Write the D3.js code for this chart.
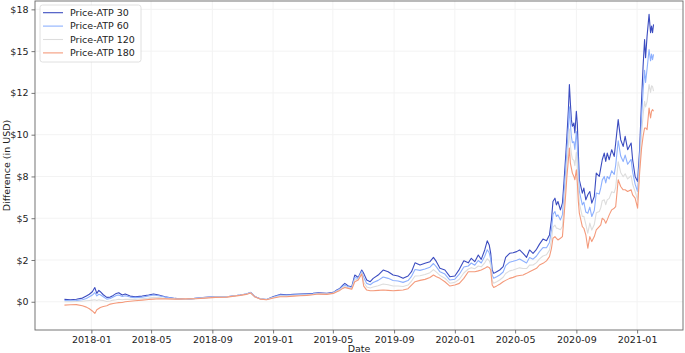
<!DOCTYPE html>
<html>
<head>
<meta charset="utf-8">
<script src="https://cdn.jsdelivr.net/npm/d3@7"></script>
<style>
  body { margin: 0; background: #fff; }
  svg text { font-family: "DejaVu Sans", sans-serif; fill: #222; }
</style>
</head>
<body>
<svg id="chart" width="685" height="353"></svg>
<script>
const dates = [
  '2017-11-08','2017-11-20','2017-12-02','2017-12-14','2017-12-22','2017-12-28','2018-01-03','2018-01-08','2018-01-12','2018-01-16',
  '2018-01-19','2018-01-25','2018-02-01','2018-02-08','2018-02-14','2018-02-20','2018-02-25','2018-03-04','2018-03-10','2018-03-20',
  '2018-03-30','2018-04-13','2018-04-26','2018-05-06','2018-05-16','2018-05-29','2018-06-18','2018-07-09','2018-07-29','2018-08-18',
  '2018-09-07','2018-09-30','2018-10-27','2018-11-08','2018-11-17','2018-11-26','2018-12-06','2018-12-19','2019-01-02','2019-01-15',
  '2019-01-28','2019-02-11','2019-02-24','2019-03-10','2019-03-22','2019-04-02','2019-04-19','2019-05-02','2019-05-09','2019-05-15',
  '2019-05-21','2019-05-25','2019-06-01','2019-06-08','2019-06-14','2019-06-21','2019-06-28','2019-07-02','2019-07-08','2019-07-15',
  '2019-07-21','2019-07-31','2019-08-10','2019-08-20','2019-08-30','2019-09-09','2019-09-19','2019-09-29','2019-10-06','2019-10-13',
  '2019-10-23','2019-11-02','2019-11-12','2019-11-19','2019-11-25','2019-12-02','2019-12-12','2019-12-22','2020-01-01','2020-01-10',
  '2020-01-19','2020-01-28','2020-02-03','2020-02-10','2020-02-17','2020-02-23','2020-03-01','2020-03-06','2020-03-10','2020-03-13',
  '2020-03-16','2020-03-19','2020-03-25','2020-03-31','2020-04-07','2020-04-12','2020-04-20','2020-04-27','2020-05-04','2020-05-10',
  '2020-05-17','2020-05-24','2020-05-30','2020-06-06','2020-06-13','2020-06-19','2020-06-26','2020-07-03','2020-07-09','2020-07-13',
  '2020-07-16','2020-07-20','2020-07-23','2020-07-26','2020-07-31','2020-08-04','2020-08-07','2020-08-11','2020-08-13','2020-08-16',
  '2020-08-18','2020-08-20','2020-08-22','2020-08-24','2020-08-27','2020-08-29','2020-09-01','2020-09-03','2020-09-05','2020-09-07',
  '2020-09-10','2020-09-13','2020-09-16','2020-09-20','2020-09-24','2020-09-28','2020-10-02','2020-10-07','2020-10-11','2020-10-17',
  '2020-10-20','2020-10-23','2020-10-27','2020-10-30','2020-11-02','2020-11-06','2020-11-11','2020-11-16','2020-11-19','2020-11-24',
  '2020-11-29','2020-12-04','2020-12-08','2020-12-13','2020-12-20','2020-12-23','2020-12-28','2021-01-02','2021-01-06','2021-01-10',
  '2021-01-13','2021-01-16','2021-01-18','2021-01-21','2021-01-25','2021-01-28','2021-01-30','2021-02-01','2021-02-03'
];

const atp30 = [
  0.14,0.12,0.15,0.22,0.35,0.45,0.6,0.85,0.5,0.68,
  0.6,0.42,0.26,0.28,0.38,0.5,0.54,0.4,0.46,0.34,
  0.3,0.34,0.4,0.46,0.4,0.3,0.2,0.14,0.2,0.26,
  0.3,0.3,0.4,0.46,0.56,0.3,0.18,0.14,0.32,0.44,
  0.42,0.44,0.46,0.48,0.5,0.54,0.5,0.56,0.7,0.8,
  1.0,1.1,0.94,0.9,1.6,1.45,1.9,1.7,1.3,1.2,
  1.4,1.6,1.9,1.8,1.6,1.54,1.4,1.54,1.8,2.33,
  2.2,2.3,2.4,2.66,2.4,2.0,1.9,1.5,1.54,1.94,
  2.45,2.33,2.6,2.4,2.8,2.54,3.1,3.65,3.4,2.9,
  1.9,1.7,1.8,1.9,2.1,2.66,2.9,2.93,3.0,3.1,
  2.9,2.66,3.1,2.9,3.14,3.45,3.75,3.65,4.0,4.9,
  6.0,6.2,5.8,6.0,5.5,5.9,7.1,8.9,9.9,11.5,
  13.0,11.9,10.9,10.5,10.7,10.1,11.4,10.6,8.9,7.3,
  6.9,6.5,6.8,6.1,6.4,6.6,5.9,6.3,7.7,7.5,
  8.0,8.5,8.9,8.4,8.9,8.5,9.1,8.7,9.5,10.9,
  9.7,9.3,9.9,9.1,9.5,8.5,7.5,7.2,9.1,12.1,
  14.1,15.7,14.6,15.9,17.2,16.1,16.5,16.1,16.6
];

const atp60 = [
  0.08,0.06,0.08,0.12,0.2,0.3,0.4,0.55,0.35,0.45,
  0.42,0.3,0.16,0.2,0.28,0.38,0.4,0.32,0.36,0.28,
  0.25,0.28,0.34,0.4,0.36,0.28,0.19,0.14,0.2,0.25,
  0.29,0.3,0.4,0.46,0.55,0.3,0.18,0.14,0.29,0.4,
  0.38,0.41,0.43,0.45,0.47,0.51,0.48,0.54,0.67,0.76,
  0.93,1.0,0.9,0.85,1.45,1.4,1.82,1.45,1.1,1.02,
  1.15,1.28,1.48,1.4,1.27,1.24,1.16,1.27,1.52,1.93,
  1.88,1.96,2.07,2.29,2.09,1.79,1.66,1.3,1.35,1.65,
  2.08,2.14,2.32,2.19,2.47,2.32,2.72,3.11,2.93,2.55,
  1.58,1.41,1.5,1.6,1.78,2.16,2.37,2.42,2.49,2.56,
  2.44,2.32,2.65,2.55,2.74,3.0,3.24,3.23,3.55,4.3,
  5.23,5.4,5.1,5.2,4.9,5.2,6.37,8.1,9.06,10.45,
  11.67,10.64,9.89,9.52,9.58,9.12,10.18,9.38,7.89,6.6,
  6.2,5.8,5.96,5.37,5.3,5.66,5.1,5.46,6.51,6.45,
  6.81,7.28,7.5,7.11,7.5,7.35,7.84,7.62,8.17,9.64,
  8.72,8.39,8.78,8.23,8.52,7.77,7.04,6.6,8.61,11.09,
  12.63,13.85,13.13,13.94,15.1,14.42,14.82,14.49,14.8
];

const atp120 = [
  0.0,0.0,0.02,0.03,0.06,0.08,0.1,0.12,0.08,0.12,
  0.1,0.08,0.02,0.05,0.1,0.12,0.15,0.12,0.15,0.14,
  0.14,0.18,0.22,0.26,0.25,0.21,0.17,0.15,0.19,0.24,
  0.28,0.29,0.39,0.45,0.54,0.29,0.17,0.13,0.25,0.35,
  0.34,0.37,0.39,0.41,0.44,0.48,0.46,0.52,0.63,0.72,
  0.86,0.92,0.84,0.8,1.32,1.35,1.73,1.17,0.88,0.82,
  0.88,0.96,1.06,1.02,0.94,0.94,0.91,1.0,1.24,1.54,
  1.56,1.63,1.74,1.92,1.77,1.58,1.41,1.11,1.16,1.35,
  1.72,1.96,2.04,1.98,2.14,2.09,2.33,2.57,2.46,2.2,
  1.27,1.11,1.2,1.3,1.47,1.69,1.85,1.9,1.98,2.03,
  1.99,1.99,2.19,2.2,2.34,2.57,2.74,2.81,3.09,3.71,
  4.46,4.59,4.4,4.39,4.31,4.5,5.63,7.29,8.22,9.4,
  10.34,9.38,8.87,8.54,8.46,8.14,8.95,8.15,6.87,5.9,
  5.5,5.1,5.12,4.63,4.1,4.71,4.29,4.62,5.32,5.4,
  5.62,6.05,6.1,5.81,6.1,6.19,6.58,6.53,6.84,8.38,
  7.74,7.48,7.66,7.35,7.54,7.03,6.59,6.1,8.12,10.07,
  11.16,11.99,11.66,11.98,13.0,12.53,12.93,12.88,12.6
];

const atp180 = [
  -0.2,-0.18,-0.17,-0.24,-0.32,-0.42,-0.55,-0.7,-0.48,-0.4,
  -0.34,-0.28,-0.24,-0.14,-0.1,-0.07,-0.05,-0.04,0.0,0.03,
  0.06,0.1,0.14,0.16,0.18,0.17,0.16,0.17,0.18,0.22,
  0.26,0.28,0.38,0.44,0.52,0.28,0.16,0.12,0.22,0.3,
  0.3,0.34,0.36,0.38,0.42,0.46,0.44,0.5,0.6,0.68,
  0.8,0.85,0.8,0.75,1.2,1.3,1.66,0.94,0.7,0.66,
  0.66,0.68,0.7,0.68,0.66,0.68,0.7,0.78,1.0,1.2,
  1.28,1.34,1.45,1.6,1.5,1.4,1.2,0.94,1.0,1.1,
  1.4,1.8,1.8,1.8,1.85,1.9,2.0,2.1,2.05,1.9,
  1.0,0.86,0.95,1.05,1.2,1.28,1.4,1.46,1.54,1.57,
  1.6,1.7,1.8,1.9,2.0,2.2,2.3,2.45,2.7,3.2,
  3.8,3.9,3.8,3.7,3.8,3.9,5.0,6.6,7.5,8.5,
  9.2,8.3,8.0,7.7,7.5,7.3,7.9,7.1,6.0,5.3,
  4.9,4.5,4.4,4.0,3.2,3.9,3.6,3.9,4.3,4.5,
  4.6,5.0,4.9,4.7,4.9,5.2,5.5,5.6,5.7,7.3,
  6.9,6.7,6.7,6.6,6.7,6.4,6.2,5.6,7.7,9.2,
  9.9,10.4,10.4,10.3,11.6,11.0,11.4,11.5,11.4
];

const seriesNames = ['Price-ATP 30', 'Price-ATP 60', 'Price-ATP 120', 'Price-ATP 180'];
const seriesValues = [atp30, atp60, atp120, atp180];
const seriesColors = ['#3b4cc0', '#8db0fe', '#dddddd', '#f49a7b'];

const yTicks = [0, 2.5, 5, 7.5, 10, 12.5, 15, 17.5];
const yTickLabels = ['$0', '$2', '$5', '$8', '$10', '$12', '$15', '$18'];

const width = 685, height = 353;
const margin = {top: 1, right: 2, bottom: 23, left: 35};

const parse = d3.utcParse('%Y-%m-%d');
const when = dates.map(parse);

const svg = d3.select('#chart');

// matplotlib style 5% padding on the dates
const [d0, d1] = d3.extent(when);
const pad = (d1 - d0) * 0.05;
const x = d3.scaleUtc()
    .domain([new Date(+d0 - pad), new Date(+d1 + pad)])
    .range([margin.left, width - margin.right]);

const y = d3.scaleLinear()
    .domain([-1.69, 18.0])
    .range([height - margin.bottom, margin.top]);

const xTicks = x.ticks(d3.utcMonth.every(4));

// grid
svg.append('g')
    .selectAll('line')
    .data(xTicks)
    .join('line')
    .attr('x1', d => x(d)).attr('x2', d => x(d))
    .attr('y1', margin.top).attr('y2', height - margin.bottom)
    .attr('stroke', '#f3f3f3');

svg.append('g')
    .selectAll('line')
    .data(yTicks)
    .join('line')
    .attr('x1', margin.left).attr('x2', width - margin.right)
    .attr('y1', d => y(d)).attr('y2', d => y(d))
    .attr('stroke', '#f3f3f3');

// lines
svg.append('clipPath').attr('id', 'plot-clip')
    .append('rect')
    .attr('x', margin.left).attr('y', margin.top)
    .attr('width', width - margin.left - margin.right)
    .attr('height', height - margin.top - margin.bottom);

const line = d3.line()
    .x((d, i) => x(when[i]))
    .y(d => y(d));

svg.append('g')
    .attr('clip-path', 'url(#plot-clip)')
    .selectAll('path')
    .data(seriesValues)
    .join('path')
    .attr('d', line)
    .attr('fill', 'none')
    .attr('stroke', (d, i) => seriesColors[i])
    .attr('stroke-width', 1.1)
    .attr('stroke-linejoin', 'round');

// axes
const xAxis = svg.append('g')
    .attr('transform', `translate(0,${height - margin.bottom})`)
    .call(d3.axisBottom(x).tickValues(xTicks).tickFormat(d3.utcFormat('%Y-%m')).tickSizeOuter(0).tickSize(3.5).tickPadding(3));

const yAxis = svg.append('g')
    .attr('transform', `translate(${margin.left},0)`)
    .call(d3.axisLeft(y).tickValues(yTicks).tickFormat((d, i) => yTickLabels[i]).tickSizeOuter(0).tickSize(3.5).tickPadding(3));

[xAxis, yAxis].forEach(g => {
    g.select('.domain').remove();
    g.selectAll('.tick line').attr('stroke', '#555').attr('stroke-width', 0.8);
    g.selectAll('.tick text')
        .style('font-family', '"DejaVu Sans", sans-serif')
        .style('font-size', '9.5px')
        .attr('fill', '#222');
});

// frame
svg.append('rect')
    .attr('x', margin.left).attr('y', margin.top)
    .attr('width', width - margin.left - margin.right)
    .attr('height', height - margin.top - margin.bottom)
    .attr('fill', 'none')
    .attr('stroke', '#666')
    .attr('stroke-width', 0.9);

// labels
svg.append('text')
    .attr('x', (margin.left + width - margin.right) / 2)
    .attr('y', 352)
    .attr('text-anchor', 'middle')
    .style('font-size', '9.5px')
    .text('Date');

svg.append('text')
    .attr('transform', `translate(10,${(margin.top + height - margin.bottom) / 2}) rotate(-90)`)
    .attr('text-anchor', 'middle')
    .style('font-size', '9.5px')
    .text('Difference (in USD)');

// legend
const legend = svg.append('g').attr('transform', 'translate(40,5)');
legend.append('rect')
    .attr('width', 101).attr('height', 57)
    .attr('rx', 2.5)
    .attr('fill', '#fff').attr('fill-opacity', 0.8)
    .attr('stroke', '#d8d8d8').attr('stroke-width', 0.8);

seriesNames.forEach((name, i) => {
    const row = legend.append('g').attr('transform', `translate(0,${7.7 + i * 13.4})`);
    row.append('line')
        .attr('x1', 3).attr('x2', 23)
        .attr('stroke', seriesColors[i])
        .attr('stroke-width', 1.1);
    row.append('text')
        .attr('x', 30).attr('y', 0)
        .attr('dy', '0.35em')
        .style('font-size', '9.5px')
        .text(name);
});
</script>
</body>
</html>
